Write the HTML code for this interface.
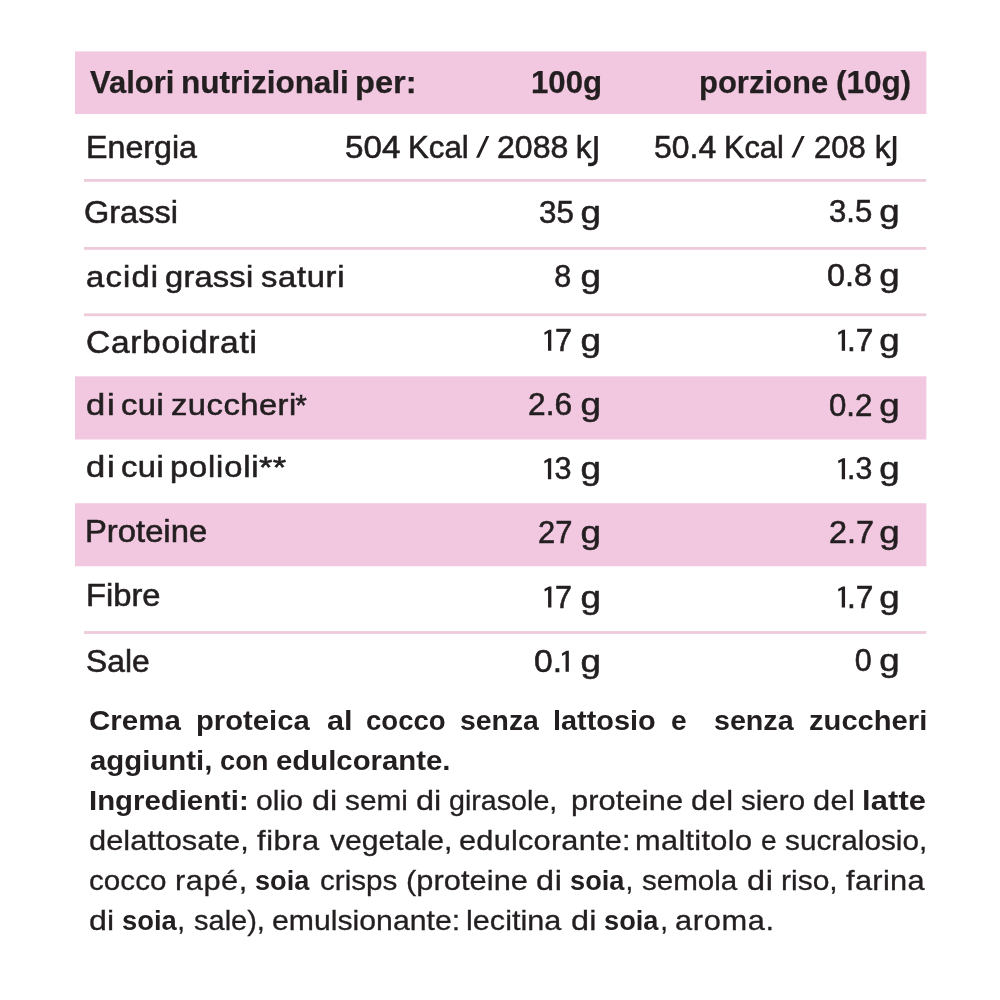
<!DOCTYPE html>
<html lang="it"><head><meta charset="utf-8"><title>Valori nutrizionali</title>
<style>
html,body{margin:0;padding:0;background:#fff;}
body{width:1000px;height:1000px;position:relative;overflow:hidden;font-family:"Liberation Sans",sans-serif;color:#231f20;}
#txt{position:absolute;left:0;top:0;width:1000px;height:1000px;will-change:transform;}
.t{position:absolute;white-space:pre;line-height:40px;height:40px;margin:0;}
.t{-webkit-text-stroke:0.55px #231f20;}
.b{font-weight:bold;-webkit-text-stroke:0.25px #231f20;}
.p{-webkit-text-stroke:0.3px #231f20;}
.p.b{-webkit-text-stroke:0;}
.x{color:transparent;-webkit-text-stroke:0;}
.h{font-size:31.5px;} .r{font-size:30.5px;} .p{font-size:28.0px;} .l{font-size:29.75px;}
</style></head><body>
<svg width="1000" height="1000" viewBox="0 0 1000 1000" style="position:absolute;left:0;top:0"><rect x="75" y="51.4" width="851.40" height="62.60" fill="#f2c8e0"/><rect x="75" y="376.3" width="851.40" height="63.20" fill="#f2c8e0"/><rect x="75" y="503.25" width="851.40" height="63.00" fill="#f2c8e0"/><rect x="84" y="179.00" width="842.30" height="2.8" fill="#edcbdb"/><rect x="84" y="247.00" width="842.30" height="2.8" fill="#edcbdb"/><rect x="84" y="313.40" width="842.30" height="2.8" fill="#edcbdb"/><rect x="84" y="631.10" width="842.30" height="2.8" fill="#edcbdb"/></svg>
<div id="txt">
<div class="t h b" style="left:89.79px;top:62.30px;transform:scaleX(0.984);transform-origin:0.00px 50%">Valori</div>
<div class="t h b" style="left:180.52px;top:62.30px;letter-spacing:-0.04px;transform:scaleX(1.002);transform-origin:0.00px 50%">nutrizionali</div>
<div class="t h b" style="left:354.75px;top:62.30px;transform:scaleX(1.037);transform-origin:0.00px 50%">per:</div>
<div class="t h b" style="left:531.04px;top:62.30px;transform:scaleX(0.990);transform-origin:0.00px 50%">100g</div>
<div class="t h b" style="left:699.46px;top:62.30px;transform:scaleX(0.984);transform-origin:0.00px 50%">porzione</div>
<div class="t h b" style="left:836.43px;top:62.30px;letter-spacing:-0.07px;transform:scaleX(1.002);transform-origin:0.00px 50%">(10g)</div>
<div class="t r" style="left:85.96px;top:126.60px;transform:scaleX(1.056);transform-origin:0.00px 50%">Energia</div>
<div class="t r" style="left:345.17px;top:126.60px;transform:scaleX(1.089);transform-origin:0.00px 50%">504</div>
<div class="t r" style="left:407.84px;top:126.60px;transform:scaleX(1.024);transform-origin:0.00px 50%">Kcal</div>
<div class="t r x" style="left:478.41px;top:126.60px">/</div>
<div class="t r" style="left:496.99px;top:126.60px;transform:scaleX(1.052);transform-origin:0.00px 50%">2088</div>
<div class="t r" style="left:576.08px;top:126.60px;transform:scaleX(1.035);transform-origin:8.67px 50%">k</div>
<div class="t r x" style="left:586.22px;top:126.60px">J</div>
<div class="t r" style="left:653.72px;top:126.50px;transform:scaleX(1.048);transform-origin:0.00px 50%">50.4</div>
<div class="t r" style="left:723.88px;top:126.50px;transform:scaleX(1.007);transform-origin:0.00px 50%">Kcal</div>
<div class="t r x" style="left:793.81px;top:126.50px">/</div>
<div class="t r" style="left:813.94px;top:126.50px;transform:scaleX(1.018);transform-origin:0.00px 50%">208</div>
<div class="t r" style="left:874.63px;top:126.50px;transform:scaleX(1.035);transform-origin:8.67px 50%">k</div>
<div class="t r x" style="left:884.77px;top:126.50px">J</div>
<div class="t r" style="left:83.97px;top:192.30px;transform:scaleX(1.065);transform-origin:0.00px 50%">Grassi</div>
<div class="t r" style="left:538.81px;top:191.50px;transform:scaleX(1.026);transform-origin:0.00px 50%">35</div>
<div class="t r" style="left:582.39px;top:191.50px;transform:scaleX(1.199);transform-origin:8.14px 50%">g</div>
<div class="t r" style="left:829.32px;top:191.20px;transform:scaleX(1.020);transform-origin:0.00px 50%">3.5</div>
<div class="t r" style="left:881.11px;top:191.20px;transform:scaleX(1.203);transform-origin:8.14px 50%">g</div>
<div class="t l" style="left:85.71px;top:256.80px;letter-spacing:1.09px;transform:scaleX(1.100);transform-origin:0.00px 50%">acidi</div>
<div class="t l" style="left:164.83px;top:256.80px;letter-spacing:0.16px;transform:scaleX(1.100);transform-origin:0.00px 50%">grassi</div>
<div class="t l" style="left:260.59px;top:256.80px;letter-spacing:0.62px;transform:scaleX(1.100);transform-origin:0.00px 50%">saturi</div>
<div class="t r" style="left:554.17px;top:255.60px">8</div>
<div class="t r" style="left:582.39px;top:255.60px;transform:scaleX(1.199);transform-origin:8.14px 50%">g</div>
<div class="t r" style="left:827.48px;top:255.30px;transform:scaleX(1.066);transform-origin:0.00px 50%">0.8</div>
<div class="t r" style="left:881.11px;top:255.30px;transform:scaleX(1.203);transform-origin:8.14px 50%">g</div>
<div class="t r" style="left:85.60px;top:322.30px;letter-spacing:0.62px;transform:scaleX(1.100);transform-origin:0.00px 50%">Carboidrati</div>
<div class="t r x" style="left:538.90px;top:319.80px">1</div>
<div class="t r" style="left:555.00px;top:319.80px">7</div>
<div class="t r" style="left:582.39px;top:319.80px;transform:scaleX(1.199);transform-origin:8.14px 50%">g</div>
<div class="t r x" style="left:832.65px;top:319.80px">1</div>
<div class="t r" style="left:847.01px;top:319.80px;transform:scaleX(1.039);transform-origin:0.00px 50%">.7</div>
<div class="t r" style="left:881.11px;top:319.80px;transform:scaleX(1.203);transform-origin:8.14px 50%">g</div>
<div class="t l" style="left:85.65px;top:385.10px;letter-spacing:1.56px;transform:scaleX(1.160);transform-origin:0.00px 50%">di</div>
<div class="t l" style="left:120.61px;top:385.10px;letter-spacing:0.46px;transform:scaleX(1.100);transform-origin:0.00px 50%">cui</div>
<div class="t l" style="left:170.67px;top:385.10px;letter-spacing:0.44px;transform:scaleX(1.100);transform-origin:0.00px 50%">zuccheri</div>
<div class="t l" style="left:295.35px;top:385.10px">*</div>
<div class="t r" style="left:527.60px;top:384.00px;transform:scaleX(1.040);transform-origin:0.00px 50%">2.6</div>
<div class="t r" style="left:582.39px;top:384.00px;transform:scaleX(1.199);transform-origin:8.14px 50%">g</div>
<div class="t r" style="left:828.78px;top:384.70px;transform:scaleX(1.023);transform-origin:0.00px 50%">0.2</div>
<div class="t r" style="left:881.11px;top:384.70px;transform:scaleX(1.203);transform-origin:8.14px 50%">g</div>
<div class="t l" style="left:85.65px;top:446.70px;letter-spacing:1.56px;transform:scaleX(1.160);transform-origin:0.00px 50%">di</div>
<div class="t l" style="left:120.61px;top:446.70px;letter-spacing:0.46px;transform:scaleX(1.100);transform-origin:0.00px 50%">cui</div>
<div class="t l" style="left:169.89px;top:446.70px;letter-spacing:0.74px;transform:scaleX(1.100);transform-origin:0.00px 50%">polioli</div>
<div class="t l" style="left:259.44px;top:446.70px;letter-spacing:0.38px;transform:scaleX(1.160);transform-origin:0.00px 50%">**</div>
<div class="t r x" style="left:538.80px;top:448.30px">1</div>
<div class="t r" style="left:554.51px;top:448.25px">3</div>
<div class="t r" style="left:582.39px;top:448.25px;transform:scaleX(1.199);transform-origin:8.14px 50%">g</div>
<div class="t r x" style="left:832.65px;top:448.25px">1</div>
<div class="t r" style="left:847.14px;top:448.25px;transform:scaleX(0.990);transform-origin:0.00px 50%">.3</div>
<div class="t r" style="left:881.11px;top:448.25px;transform:scaleX(1.203);transform-origin:8.14px 50%">g</div>
<div class="t r" style="left:84.81px;top:510.75px;transform:scaleX(1.075);transform-origin:0.00px 50%">Proteine</div>
<div class="t r" style="left:538.14px;top:512.40px;transform:scaleX(1.014);transform-origin:0.00px 50%">27</div>
<div class="t r" style="left:582.39px;top:512.40px;transform:scaleX(1.199);transform-origin:8.14px 50%">g</div>
<div class="t r" style="left:828.87px;top:512.25px;transform:scaleX(1.063);transform-origin:0.00px 50%">2.7</div>
<div class="t r" style="left:881.11px;top:512.25px;transform:scaleX(1.203);transform-origin:8.14px 50%">g</div>
<div class="t r" style="left:85.61px;top:575.00px;transform:scaleX(1.073);transform-origin:0.00px 50%">Fibre</div>
<div class="t r x" style="left:539.00px;top:576.50px">1</div>
<div class="t r" style="left:555.05px;top:576.50px">7</div>
<div class="t r" style="left:582.39px;top:576.50px;transform:scaleX(1.199);transform-origin:8.14px 50%">g</div>
<div class="t r x" style="left:832.65px;top:576.50px">1</div>
<div class="t r" style="left:847.01px;top:576.50px;transform:scaleX(1.039);transform-origin:0.00px 50%">.7</div>
<div class="t r" style="left:881.11px;top:576.50px;transform:scaleX(1.203);transform-origin:8.14px 50%">g</div>
<div class="t r" style="left:86.26px;top:640.60px;transform:scaleX(1.043);transform-origin:0.00px 50%">Sale</div>
<div class="t r x" style="left:556.45px;top:640.80px">1</div>
<div class="t r" style="left:533.58px;top:640.75px;transform:scaleX(1.104);transform-origin:0.00px 50%">0.</div>
<div class="t r" style="left:582.39px;top:640.75px;transform:scaleX(1.199);transform-origin:8.14px 50%">g</div>
<div class="t r" style="left:854.77px;top:640.25px">0</div>
<div class="t r" style="left:881.11px;top:640.25px;transform:scaleX(1.203);transform-origin:8.14px 50%">g</div>
<div class="t p b" style="left:89.29px;top:700.50px;transform:scaleX(1.053);transform-origin:0.00px 50%">Crema</div>
<div class="t p b" style="left:196.07px;top:700.50px;transform:scaleX(1.044);transform-origin:0.00px 50%">proteica</div>
<div class="t p b" style="left:326.60px;top:700.50px;transform:scaleX(1.095);transform-origin:0.00px 50%">al</div>
<div class="t p b" style="left:365.92px;top:700.50px;transform:scaleX(0.984);transform-origin:0.00px 50%">cocco</div>
<div class="t p b" style="left:459.75px;top:700.50px;transform:scaleX(1.013);transform-origin:0.00px 50%">senza</div>
<div class="t p b" style="left:553.48px;top:700.50px;transform:scaleX(1.031);transform-origin:0.00px 50%">lattosio</div>
<div class="t p b" style="left:670.90px;top:700.50px">e</div>
<div class="t p b" style="left:713.99px;top:700.50px;transform:scaleX(1.023);transform-origin:0.00px 50%">senza</div>
<div class="t p b" style="left:808.83px;top:700.50px;transform:scaleX(1.041);transform-origin:0.00px 50%">zuccheri</div>
<div class="t p b" style="left:89.64px;top:740.50px;transform:scaleX(1.049);transform-origin:0.00px 50%">aggiunti,</div>
<div class="t p b" style="left:220.18px;top:740.50px;transform:scaleX(0.974);transform-origin:0.00px 50%">con</div>
<div class="t p b" style="left:276.35px;top:740.50px;transform:scaleX(1.048);transform-origin:0.00px 50%">edulcorante.</div>
<div class="t p b" style="left:89.29px;top:780.70px;transform:scaleX(1.048);transform-origin:0.00px 50%">Ingredienti:</div>
<div class="t p" style="left:256.23px;top:780.70px;transform:scaleX(1.079);transform-origin:0.00px 50%">olio</div>
<div class="t p" style="left:312.39px;top:780.70px;letter-spacing:0.02px;transform:scaleX(1.160);transform-origin:0.00px 50%">di</div>
<div class="t p" style="left:345.42px;top:780.70px;transform:scaleX(1.063);transform-origin:0.00px 50%">semi</div>
<div class="t p" style="left:415.64px;top:780.70px;letter-spacing:0.02px;transform:scaleX(1.160);transform-origin:0.00px 50%">di</div>
<div class="t p" style="left:448.80px;top:780.70px;transform:scaleX(1.023);transform-origin:0.00px 50%">girasole,</div>
<div class="t p" style="left:570.51px;top:780.70px;letter-spacing:0.10px;transform:scaleX(1.100);transform-origin:0.00px 50%">proteine</div>
<div class="t p" style="left:691.21px;top:780.70px;letter-spacing:0.46px;transform:scaleX(1.100);transform-origin:0.00px 50%">del</div>
<div class="t p" style="left:740.93px;top:780.70px;transform:scaleX(1.056);transform-origin:0.00px 50%">siero</div>
<div class="t p" style="left:813.21px;top:780.70px;letter-spacing:0.34px;transform:scaleX(1.100);transform-origin:0.00px 50%">del</div>
<div class="t p b" style="left:862.10px;top:780.70px;letter-spacing:0.14px;transform:scaleX(1.100);transform-origin:0.00px 50%">latte</div>
<div class="t p" style="left:89.21px;top:820.50px;letter-spacing:0.05px;transform:scaleX(1.100);transform-origin:0.00px 50%">delattosate,</div>
<div class="t p" style="left:256.56px;top:820.50px;letter-spacing:0.52px;transform:scaleX(1.100);transform-origin:0.00px 50%">fibra</div>
<div class="t p" style="left:329.90px;top:820.50px;transform:scaleX(1.076);transform-origin:0.00px 50%">vegetale,</div>
<div class="t p" style="left:459.19px;top:820.50px;letter-spacing:0.17px;transform:scaleX(1.100);transform-origin:0.00px 50%">edulcorante:</div>
<div class="t p" style="left:634.95px;top:820.50px;letter-spacing:0.27px;transform:scaleX(1.100);transform-origin:0.00px 50%">maltitolo</div>
<div class="t p" style="left:760.99px;top:820.50px">e</div>
<div class="t p" style="left:784.92px;top:820.50px;transform:scaleX(1.063);transform-origin:0.00px 50%">sucralosio,</div>
<div class="t p" style="left:89.24px;top:860.50px;transform:scaleX(1.060);transform-origin:0.00px 50%">cocco</div>
<div class="t p" style="left:175.45px;top:860.50px;letter-spacing:0.48px;transform:scaleX(1.100);transform-origin:0.00px 50%">rapé,</div>
<div class="t p b" style="left:255.30px;top:860.50px;transform:scaleX(0.969);transform-origin:0.00px 50%">soia</div>
<div class="t p" style="left:319.99px;top:860.50px;transform:scaleX(1.058);transform-origin:0.00px 50%">crisps</div>
<div class="t p" style="left:405.59px;top:860.50px;letter-spacing:0.05px;transform:scaleX(1.100);transform-origin:0.00px 50%">(proteine</div>
<div class="t p" style="left:535.64px;top:860.50px;letter-spacing:0.67px;transform:scaleX(1.160);transform-origin:0.00px 50%">di</div>
<div class="t p b" style="left:569.54px;top:860.50px;transform:scaleX(0.973);transform-origin:0.00px 50%">soia</div>
<div class="t p" style="left:625.49px;top:860.50px">,</div>
<div class="t p" style="left:642.18px;top:860.50px;transform:scaleX(1.056);transform-origin:0.00px 50%">semola</div>
<div class="t p" style="left:747.39px;top:860.50px;letter-spacing:0.67px;transform:scaleX(1.160);transform-origin:0.00px 50%">di</div>
<div class="t p" style="left:781.01px;top:860.50px;transform:scaleX(1.072);transform-origin:0.00px 50%">riso,</div>
<div class="t p" style="left:845.81px;top:860.50px;letter-spacing:0.30px;transform:scaleX(1.100);transform-origin:0.00px 50%">farina</div>
<div class="t p" style="left:89.15px;top:900.50px;transform:scaleX(1.148);transform-origin:0.00px 50%">di</div>
<div class="t p b" style="left:122.04px;top:900.50px;transform:scaleX(0.978);transform-origin:0.00px 50%">soia</div>
<div class="t p" style="left:177.24px;top:900.50px">,</div>
<div class="t p" style="left:193.69px;top:900.50px;transform:scaleX(1.036);transform-origin:0.00px 50%">sale),</div>
<div class="t p" style="left:271.72px;top:900.50px;transform:scaleX(1.079);transform-origin:0.00px 50%">emulsionante:</div>
<div class="t p" style="left:465.94px;top:900.50px;transform:scaleX(1.094);transform-origin:0.00px 50%">lecitina</div>
<div class="t p" style="left:571.14px;top:900.50px;letter-spacing:0.24px;transform:scaleX(1.160);transform-origin:0.00px 50%">di</div>
<div class="t p b" style="left:604.04px;top:900.50px;transform:scaleX(0.973);transform-origin:0.00px 50%">soia</div>
<div class="t p" style="left:660.24px;top:900.50px">,</div>
<div class="t p" style="left:674.94px;top:900.50px;letter-spacing:0.59px;transform:scaleX(1.100);transform-origin:0.00px 50%">aroma.</div>
<svg width="1000" height="1000" viewBox="0 0 1000 1000" style="position:absolute;left:0;top:0" fill="none" stroke="#231f20" stroke-width="3.5"><path d="M596.05 136.10V159.00Q596.05 164.40 590.55 164.40H588.15"/><path d="M894.60 136.00V158.90Q894.60 164.30 889.10 164.30H886.70"/><g fill="#231f20" stroke="none"><path d="M551.30 329.80L551.30 350.80L548.00 350.80L548.00 333.10L544.70 334.90L544.30 332.40L549.00 329.80Z"/><path d="M845.05 329.80L845.05 350.80L841.75 350.80L841.75 333.10L838.45 334.90L838.05 332.40L842.75 329.80Z"/><path d="M551.20 458.30L551.20 479.30L547.90 479.30L547.90 461.60L544.60 463.40L544.20 460.90L548.90 458.30Z"/><path d="M845.05 458.25L845.05 479.25L841.75 479.25L841.75 461.55L838.45 463.35L838.05 460.85L842.75 458.25Z"/><path d="M551.40 586.50L551.40 607.50L548.10 607.50L548.10 589.80L544.80 591.60L544.40 589.10L549.10 586.50Z"/><path d="M845.05 586.50L845.05 607.50L841.75 607.50L841.75 589.80L838.45 591.60L838.05 589.10L842.75 586.50Z"/><path d="M568.85 650.80L568.85 671.80L565.55 671.80L565.55 654.10L562.25 655.90L561.85 653.40L566.55 650.80Z"/><path d="M476.00 157.70H479.10L489.30 136.00H486.20Z"/><path d="M791.40 157.60H794.50L804.70 135.90H801.60Z"/></g></svg>
</div>
</body></html>
